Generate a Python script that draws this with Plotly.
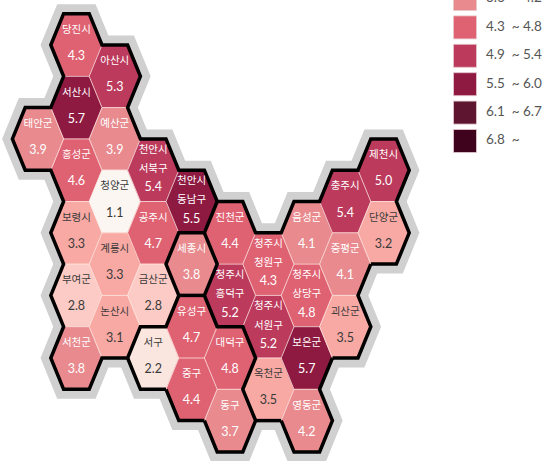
import plotly.graph_objects as go

# ---------- data ----------
names = ["당진시","서산시","홍성군","보령시","부여군","서천군",
         "태안군",
         "아산시","예산군","청양군","계룡시","논산시",
         "천안시 서북구","공주시","금산군",
         "천안시 동남구",
         "세종시",
         "서구","유성구","중구","대덕구","동구",
         "진천군","청주시 흥덕구","청주시 청원구","청주시 서원구","옥천군",
         "음성군","청주시 상당구","보은군","영동군",
         "충주시","중평군","괴산군","제천시","단양군"]
values = [4.3,5.7,4.6,3.3,2.8,3.8,
          3.9,
          5.3,3.9,1.1,3.3,3.1,
          5.4,4.7,2.8,
          5.5,
          3.8,
          2.2,4.7,4.4,4.8,3.7,
          4.4,5.2,4.3,5.2,3.5,
          4.1,4.8,5.7,4.2,
          5.4,4.1,3.5,5.0,3.2]
groups = [0]*16 + [1] + [2]*5 + [3]*14
grid_col = [1,1,1,1,1,1,
            0,
            2,2,2,2,2,
            3,3,3,
            4,
            4,
            3,4,4,5,5,
            5,5,6,6,6,
            7,7,7,7,
            8,8,8,9,9]
grid_row = [0,2,4,6,8,10,
            3,
            1,3,5,7,9,
            4,6,8,
            5,
            7,
            10,9,11,10,12,
            6,8,7,9,11,
            6,8,10,12,
            5,7,9,4,6]
legend_labels = ["3.6  ~ 4.2","4.3  ~ 4.8","4.9  ~ 5.4","5.5  ~ 6.0","6.1  ~ 6.7","6.8  ~"]
legend_colors = ["#E88A8E","#DF6272","#BC3A5C","#8E1A42","#5E1630","#3F031D"]
bin_upper = [1.5,2.5,3.0,3.5,4.2,4.8,5.4,6.0,6.7,99]
bin_colors = ["#FBF6F2","#FBE6DF","#FDCBC5","#F9A9A3","#E88A8E","#DF6272","#BC3A5C","#8E1A42","#5E1630","#3F031D"]

# ---------- layout of the grid inside the 542x461 page ----------
W, H = 542, 461
X0, DX, Y0, DY = 38.0, 38.4, 45.0, 31.3
xr = [(0 - X0)/DX, (W - X0)/DX]
yr = [(H - Y0)/DY, (0 - Y0)/DY]

def color_of(v):
    for u, c in zip(bin_upper, bin_colors):
        if v <= u:
            return c
    return bin_colors[-1]

def corners(c, r):
    return [(c-2/3, r), (c-1/3, r-1), (c+1/3, r-1), (c+2/3, r), (c+1/3, r+1), (c-1/3, r+1)]

edges = {}
for i, (c, r) in enumerate(zip(grid_col, grid_row)):
    p = corners(c, r)
    for k in range(6):
        a, b = p[k], p[(k+1) % 6]
        key = tuple(sorted([(round(a[0], 3), a[1]), (round(b[0], 3), b[1])]))
        edges.setdefault(key, []).append(i)

def seg(keys):
    xs, ys = [], []
    for a, b in keys:
        xs += [a[0], b[0], None]
        ys += [a[1], b[1], None]
    return xs, ys

def chain(keys):
    """Stitch edges into continuous paths so corners join cleanly."""
    remaining = list(keys)
    xs, ys = [], []
    while remaining:
        a, b = remaining.pop()
        path = [a, b]
        extended = True
        while extended:
            extended = False
            for e in remaining:
                if e[0] == path[-1] or e[1] == path[-1]:
                    path.append(e[1] if e[0] == path[-1] else e[0])
                    remaining.remove(e)
                    extended = True
                    break
        xs += [q[0] for q in path] + [None]
        ys += [q[1] for q in path] + [None]
    return xs, ys

black = [k for k, v in edges.items() if len(v) == 1 or groups[v[0]] != groups[v[1]]]
inner = [k for k, v in edges.items() if len(v) == 2 and groups[v[0]] == groups[v[1]]]

fig = go.Figure()
gx, gy = [], []
for c, r in zip(grid_col, grid_row):
    p = corners(c, r)
    gx += [q[0] for q in p] + [p[0][0], p[1][0], None]
    gy += [q[1] for q in p] + [p[0][1], p[1][1], None]
fig.add_trace(go.Scatter(x=gx, y=gy, mode="lines", line=dict(color="#D0D0D0", width=19), hoverinfo="skip"))

for n, v, c, r in zip(names, values, grid_col, grid_row):
    p = corners(c, r)
    fig.add_trace(go.Scatter(x=[q[0] for q in p]+[p[0][0]], y=[q[1] for q in p]+[p[0][1]],
                             mode="lines", fill="toself", fillcolor=color_of(v),
                             line=dict(color=color_of(v), width=0.5), name=n, hoverinfo="name"))

ix, iy = seg(inner)
fig.add_trace(go.Scatter(x=ix, y=iy, mode="lines", line=dict(color="rgba(255,235,230,0.75)", width=1), hoverinfo="skip"))
bx, by = chain(black)
fig.add_trace(go.Scatter(x=bx, y=by, mode="lines", line=dict(color="#000000", width=3.5), hoverinfo="skip"))

KFONT = "Noto Sans CJK KR"
NFONT = "Lato"
tx, ty, tt, tc, vx, vy, vt, vc = [], [], [], [], [], [], [], []
for n, v, c, r in zip(names, values, grid_col, grid_row):
    col = "#3a3a3a" if v <= 3.5 else "#ffffff"
    parts = n.split(" ")
    if len(parts) == 1:
        lines = [(parts[0], -0.47)]
        vo = 0.38
    else:
        lines = [(parts[0], -0.64), (parts[1], -0.02)]
        vo = 0.58
    for s, o in lines:
        tx.append(c); ty.append(r+o); tt.append(s); tc.append(col)
    vx.append(c); vy.append(r+vo); vt.append(f"{v:.1f}"); vc.append(col)

fig.add_trace(go.Scatter(x=tx, y=ty, mode="text", text=tt, textposition="middle center",
                         textfont=dict(family=KFONT, size=10.5, color=tc), hoverinfo="skip"))
fig.add_trace(go.Scatter(x=vx, y=vy, mode="text", text=vt, textposition="middle center",
                         textfont=dict(family=NFONT, size=12.5, color=vc), hoverinfo="skip"))

# legend drawn in data space, first swatch partly above the page
LEG_X = (465 - X0)/DX
LEG_TX = (486 - X0)/DX
LEG_Y0 = (-1 - Y0)/DY
LEG_DY = 28.4/DY
ly = [LEG_Y0 + i*LEG_DY for i in range(len(legend_labels))]
fig.add_trace(go.Scatter(x=[LEG_X]*len(ly), y=ly, mode="markers",
                         marker=dict(symbol="square", size=23, color=legend_colors,
                                     line=dict(color="rgba(230,200,205,0.8)", width=1)),
                         cliponaxis=True, hoverinfo="skip"))
fig.add_trace(go.Scatter(x=[LEG_TX]*len(ly), y=ly, mode="text", text=legend_labels,
                         textposition="middle right",
                         textfont=dict(family=NFONT, size=13.5, color="#555555"), hoverinfo="skip"))

fig.update_layout(width=W, height=H, margin=dict(l=0, r=0, t=0, b=0), showlegend=False,
                  paper_bgcolor="white", plot_bgcolor="white",
                  xaxis=dict(range=xr, visible=False, fixedrange=True),
                  yaxis=dict(range=yr, visible=False, fixedrange=True))
fig.write_html("out.html", config=dict(displayModeBar=False),
               post_script="document.body.style.margin='0';document.body.style.overflow='hidden';")
